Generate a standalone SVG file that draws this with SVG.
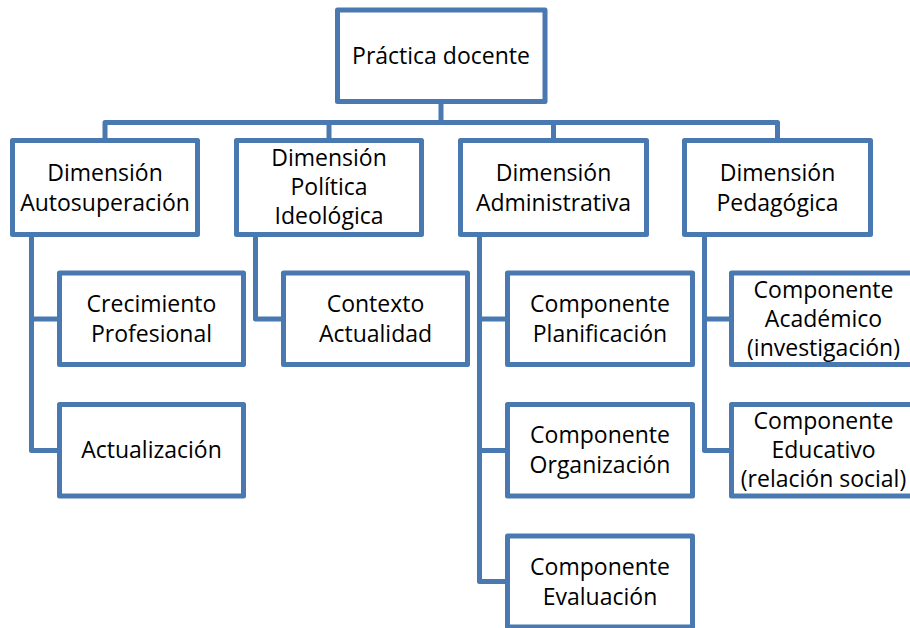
<svg xmlns="http://www.w3.org/2000/svg" width="910" height="628" viewBox="0 0 910 628">
<style>
.box{fill:#ffffff;stroke:#4A79B2;stroke-width:5;stroke-linejoin:round}
.conn path{fill:none;stroke:#4A79B2;stroke-width:5;stroke-linejoin:round;stroke-linecap:butt}
text{font-family:"Open Sans","Noto Sans","DejaVu Sans",sans-serif;font-size:23px;fill:#000;text-anchor:middle}
</style>
<rect width="910" height="628" fill="#ffffff"/>
<g class="conn" id="connectors">
<path d="M441,101.5 V122.5"/>
<path d="M105,140.5 V122.5 H777.5 V140.5"/>
<path d="M329,122.5 V140.5"/>
<path d="M553.5,122.5 V140.5"/>
<path d="M31.5,234.5 V450.5 H59.5"/>
<path d="M31.5,319 H59.5"/>
<path d="M255.5,234.5 V319 H283.5"/>
<path d="M479.5,234.5 V581.5 H507.5"/>
<path d="M479.5,319 H507.5"/>
<path d="M479.5,450.5 H507.5"/>
<path d="M704.5,234.5 V450.5 H731.5"/>
<path d="M704.5,319 H731.5"/>
</g>
<g id="n-root"><rect class="box" x="337.5" y="10" width="207.5" height="91.5"/><text x="441" y="63.5">Práctica docente</text></g>
<g id="n-autosuperacion"><rect class="box" x="12.5" y="140.5" width="185" height="94"/><text x="105" y="180.5">Dimensión</text><text x="105" y="210.5">Autosuperación</text></g>
<g id="n-politica"><rect class="box" x="236.5" y="140.5" width="185" height="94"/><text x="329" y="166">Dimensión</text><text x="329" y="195">Política</text><text x="329" y="224">Ideológica</text></g>
<g id="n-administrativa"><rect class="box" x="460.5" y="140.5" width="186" height="94"/><text x="553.5" y="180.5">Dimensión</text><text x="553.5" y="210.5">Administrativa</text></g>
<g id="n-pedagogica"><rect class="box" x="684.5" y="140.5" width="186" height="94"/><text x="777.5" y="180.5">Dimensión</text><text x="777.5" y="210.5">Pedagógica</text></g>
<g id="n-crecimiento"><rect class="box" x="59.5" y="273" width="184" height="91.5"/><text x="151.5" y="311.5">Crecimiento</text><text x="151.5" y="341.5">Profesional</text></g>
<g id="n-actualizacion"><rect class="box" x="59.5" y="404.5" width="184" height="91.5"/><text x="151.5" y="458">Actualización</text></g>
<g id="n-contexto"><rect class="box" x="283.5" y="273" width="184" height="91.5"/><text x="375.5" y="311.5">Contexto</text><text x="375.5" y="341.5">Actualidad</text></g>
<g id="n-planificacion"><rect class="box" x="507.5" y="273" width="185" height="91.5"/><text x="600" y="311.5">Componente</text><text x="600" y="341.5">Planificación</text></g>
<g id="n-organizacion"><rect class="box" x="507.5" y="404.5" width="185" height="91.5"/><text x="600" y="443">Componente</text><text x="600" y="473">Organización</text></g>
<g id="n-evaluacion"><rect class="box" x="507.5" y="536" width="185" height="91"/><text x="600" y="574.5">Componente</text><text x="600" y="604.5">Evaluación</text></g>
<g id="n-academico"><rect class="box" x="731.5" y="273" width="184" height="91.5"/><text x="823.5" y="297.5">Componente</text><text x="823.5" y="326.5">Académico</text><text x="823.5" y="355.5">(investigación)</text></g>
<g id="n-educativo"><rect class="box" x="731.5" y="404.5" width="184" height="91.5"/><text x="823.5" y="429">Componente</text><text x="823.5" y="458">Educativo</text><text x="823.5" y="487">(relación social)</text></g>
</svg>
